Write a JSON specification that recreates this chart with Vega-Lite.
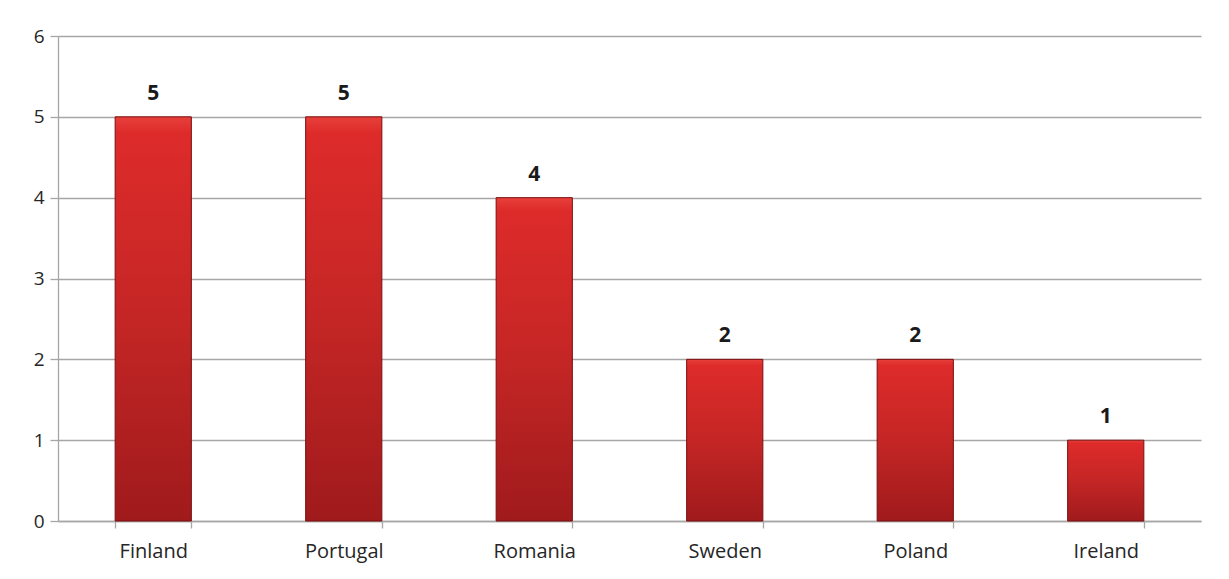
{
  "$schema": "https://vega.github.io/schema/vega-lite/v6.json",
  "autosize": {"type": "none"},
  "width": 1143,
  "height": 485,
  "padding": {"left": 58, "top": 36, "right": 28, "bottom": 58},
  "background": "white",
  "config": {
    "view": {"stroke": null},
    "font": "Open Sans"
  },
  "data": {
    "values": [
      {"country": "Finland", "value": 5},
      {"country": "Portugal", "value": 5},
      {"country": "Romania", "value": 4},
      {"country": "Sweden", "value": 2},
      {"country": "Poland", "value": 2},
      {"country": "Ireland", "value": 1}
    ]
  },
  "encoding": {
    "x": {
      "field": "country", "type": "nominal", "sort": null,
      "scale": {"paddingInner": 0.6, "paddingOuter": 0.3},
      "axis": {"title": null, "labelAngle": 0, "tickBand": "extent", "tickSize": 7, "labelPadding": 13, "grid": false,
        "labelFont": "Open Sans", "labelFontSize": 20, "labelColor": "#262626",
        "domainColor": "#A6A6A6", "tickColor": "#A6A6A6", "domainWidth": 1.3, "tickWidth": 1.3}
    },
    "y": {
      "field": "value", "type": "quantitative",
      "scale": {"domain": [0, 6]},
      "axis": {"title": null, "values": [0, 1, 2, 3, 4, 5, 6], "tickSize": 8, "labelPadding": 6, "grid": true,
        "labelFont": "Open Sans", "labelFontSize": 19, "labelColor": "#262626",
        "domainColor": "#A6A6A6", "tickColor": "#A6A6A6", "gridColor": "#A6A6A6", "gridWidth": 1.3, "domainWidth": 1.3, "tickWidth": 1.3}
    }
  },
  "layer": [
    {
      "mark": {
        "type": "bar",
        "stroke": "#7A0E0E",
        "strokeWidth": 1,
        "color": {
          "gradient": "linear", "x1": 0, "y1": 0, "x2": 0, "y2": 1,
          "stops": [
            {"offset": 0, "color": "#E8403C"},
            {"offset": 0.04, "color": "#DD2B2A"},
            {"offset": 0.5, "color": "#C42625"},
            {"offset": 1, "color": "#A01A1C"}
          ]
        }
      }
    },
    {
      "mark": {"type": "text", "baseline": "bottom", "dy": -13, "fontSize": 21, "fontWeight": "bold", "color": "#1a1a1a", "font": "Open Sans"},
      "encoding": {"text": {"field": "value", "type": "quantitative"}}
    }
  ]
}
